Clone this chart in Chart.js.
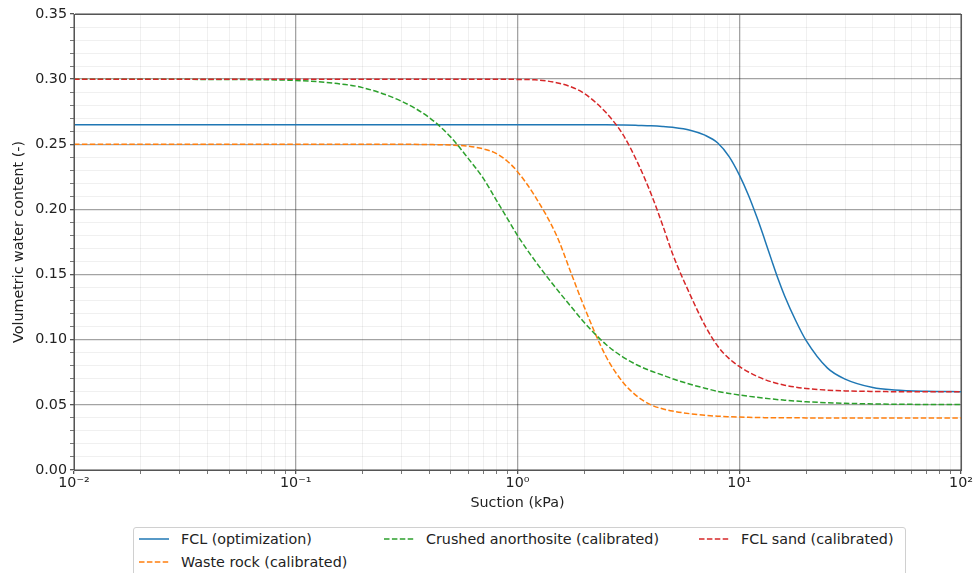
<!DOCTYPE html>
<html>
<head>
<meta charset="utf-8">
<script src="https://cdn.jsdelivr.net/npm/chart.js@4/dist/chart.umd.min.js"></script>
<style>
    body { margin: 0; background: #fff; }
    #wrap { position: relative; width: 974px; height: 573px; overflow: hidden; font-family: "DejaVu Sans", sans-serif; }
    #legend {
        position: absolute; left: 133px; top: 527px; width: 771px; height: 60px;
        border: 1px solid #d0d0d0; border-radius: 3px; background: #fff;
        font-size: 14.3px; color: #222;
    }
    .item { position: absolute; display: flex; align-items: center; height: 18px; white-space: nowrap; }
    .item svg { margin-right: 12px; }
</style>
</head>
<body>
<div id="wrap">
    <canvas id="wrcChart" width="974" height="573"></canvas>
    <div id="legend"></div>
</div>
<script>
const suction = [0.01, 0.02, 0.05, 0.1, 0.15, 0.2, 0.3, 0.4, 0.5, 0.6, 0.7, 0.8, 0.9, 1, 1.2, 1.5, 1.75, 2, 2.5, 3,
    3.5, 4, 4.5, 5, 6, 7, 8, 9, 10, 11, 12, 13, 14, 15, 16, 18, 20, 25, 30, 40, 50, 70, 100];

const fclOptimization = [0.265, 0.265, 0.265, 0.265, 0.265, 0.265, 0.265, 0.265, 0.265, 0.265, 0.265, 0.265, 0.265, 0.265, 0.265, 0.265, 0.265, 0.265, 0.265, 0.2648,
    0.2645, 0.2642, 0.2637, 0.263, 0.2608, 0.257, 0.251, 0.2405, 0.2265, 0.2109, 0.1941, 0.1772, 0.1609, 0.1462, 0.1338, 0.1144, 0.0995, 0.0782, 0.0698, 0.0633, 0.0614, 0.0604, 0.0601];

const wasteRock = [0.250, 0.250, 0.250, 0.250, 0.250, 0.250, 0.250, 0.2498, 0.2494, 0.2485, 0.2465, 0.243, 0.237, 0.229, 0.210, 0.180, 0.1505, 0.125, 0.0875, 0.067,
    0.056, 0.050, 0.047, 0.0452, 0.0432, 0.042, 0.0413, 0.0409, 0.0406, 0.0404, 0.0403, 0.0402, 0.0402, 0.0401, 0.0401, 0.0401, 0.0400, 0.040, 0.040, 0.040, 0.040, 0.040, 0.040];

const crushedAnorthosite = [0.300, 0.2999, 0.2997, 0.2990, 0.2968, 0.2935, 0.283, 0.2705, 0.2555, 0.239, 0.224, 0.2075, 0.193, 0.180, 0.1605, 0.139, 0.1251, 0.1132, 0.0965, 0.0865,
    0.0802, 0.076, 0.0729, 0.0701, 0.0658, 0.0628, 0.0603, 0.0588, 0.0576, 0.0566, 0.0558, 0.0551, 0.0545, 0.054, 0.0536, 0.0529, 0.0524, 0.0516, 0.0512, 0.0507, 0.0505, 0.0503, 0.0502];

const fclSand = [0.300, 0.300, 0.300, 0.300, 0.300, 0.300, 0.300, 0.300, 0.300, 0.300, 0.300, 0.300, 0.2999, 0.2998, 0.2995, 0.2973, 0.294, 0.289, 0.2745, 0.257,
    0.235, 0.212, 0.1885, 0.166, 0.1346, 0.111, 0.095, 0.0855, 0.0795, 0.0752, 0.0720, 0.0695, 0.0676, 0.0662, 0.0651, 0.0636, 0.0626, 0.0613, 0.0607, 0.0603, 0.0601, 0.060, 0.060];

const seriesNames = ['FCL (optimization)', 'Waste rock (calibrated)', 'Crushed anorthosite (calibrated)', 'FCL sand (calibrated)'];
const seriesColors = ['#1f77b4', '#ff7f0e', '#2ca02c', '#d62728'];

// x ticks: decades are major, 2..9 are minor
const xTickValues = [0.01, 0.02, 0.03, 0.04, 0.05, 0.06, 0.07, 0.08, 0.09,
    0.1, 0.2, 0.3, 0.4, 0.5, 0.6, 0.7, 0.8, 0.9,
    1, 2, 3, 4, 5, 6, 7, 8, 9,
    10, 20, 30, 40, 50, 60, 70, 80, 90, 100];
const xTickLabels = { '0.01': '10\u207B\u00B2', '0.1': '10\u207B\u00B9', '1': '10\u2070', '10': '10\u00B9', '100': '10\u00B2' };

const majorGrid = 'rgba(0,0,0,0.36)';
const minorGrid = 'rgba(0,0,0,0.08)';

function isMajorX(v) {
    return Math.abs(Math.log10(v) - Math.round(Math.log10(v))) < 1e-6;
}
function isMajorY(v) {
    return Math.round(v * 100) % 5 === 0;
}

function toPoints(values) {
    return suction.map(function (s, i) { return { x: s, y: values[i] }; });
}

const seriesValues = [fclOptimization, wasteRock, crushedAnorthosite, fclSand];

const datasets = seriesValues.map(function (values, i) {
    return {
        label: seriesNames[i],
        data: toPoints(values),
        borderColor: seriesColors[i],
        backgroundColor: seriesColors[i],
        borderWidth: 1.5,
        borderDash: i === 0 ? [] : [5.5, 2.4],
        pointRadius: 0,
        cubicInterpolationMode: 'monotone',
        order: 4 - i
    };
});

// draws the top and right spines too
const frame = {
    id: 'frame',
    afterDraw(chart) {
        const a = chart.chartArea;
        const ctx = chart.ctx;
        ctx.save();
        ctx.strokeStyle = '#555';
        ctx.lineWidth = 1;
        ctx.strokeRect(a.left + 0.5, a.top + 0.5, a.right - a.left, a.bottom - a.top);
        ctx.restore();
    }
};

Chart.defaults.font.family = '"DejaVu Sans", sans-serif';
Chart.defaults.font.size = 14.3;
Chart.defaults.color = '#222';

new Chart(document.getElementById('wrcChart'), {
    type: 'line',
    data: { datasets: datasets },
    options: {
        responsive: false,
        animation: false,
        layout: { padding: { top: 14, right: 11, bottom: 61, left: 11 } },
        plugins: { legend: { display: false }, tooltip: { enabled: false } },
        scales: {
            x: {
                type: 'logarithmic',
                min: 0.01,
                max: 100,
                afterBuildTicks: function (scale) {
                    scale.ticks = xTickValues.map(function (v) { return { value: v }; });
                },
                afterFit: function (scale) { scale.height = 42; },
                ticks: {
                    autoSkip: false,
                    maxRotation: 0,
                    padding: 1,
                    callback: function (value) { return xTickLabels[String(value)] || ''; }
                },
                grid: {
                    color: function (c) { return isMajorX(c.tick.value) ? majorGrid : minorGrid; },
                    lineWidth: function (c) { return isMajorX(c.tick.value) ? 1.3 : 0.8; },
                    tickColor: '#555',
                    tickLength: 4
                },
                border: { color: '#555' },
                title: { display: true, text: 'Suction (kPa)', padding: { top: 2, bottom: 0 } }
            },
            y: {
                min: 0,
                max: 0.35,
                afterFit: function (scale) { scale.width = 63; },
                ticks: {
                    stepSize: 0.01,
                    autoSkip: false,
                    padding: 3,
                    callback: function (value) { return isMajorY(value) ? value.toFixed(2) : ''; }
                },
                grid: {
                    color: function (c) { return isMajorY(c.tick.value) ? majorGrid : minorGrid; },
                    lineWidth: function (c) { return isMajorY(c.tick.value) ? 1.3 : 0.8; },
                    tickColor: '#555',
                    tickLength: 4
                },
                border: { color: '#555' },
                title: { display: true, text: 'Volumetric water content (-)', padding: { top: 0, bottom: 2 } }
            }
        }
    },
    plugins: [frame]
});

// matplotlib-style legend, 3 columns filled column by column
const legendSlots = [
    { left: 5, top: 2 },   // FCL (optimization)
    { left: 5, top: 25 },  // Waste rock
    { left: 250, top: 2 }, // Crushed anorthosite
    { left: 565, top: 2 }  // FCL sand
];
const legend = document.getElementById('legend');
seriesNames.forEach(function (name, i) {
    const item = document.createElement('div');
    item.className = 'item';
    item.style.left = legendSlots[i].left + 'px';
    item.style.top = legendSlots[i].top + 'px';
    const dash = i === 0 ? '' : ' stroke-dasharray="5.5 2.4"';
    item.innerHTML = '<svg width="30" height="10"><line x1="0" y1="5" x2="30" y2="5" stroke="' + seriesColors[i] +
        '" stroke-width="1.5"' + dash + '/></svg><span>' + name + '</span>';
    legend.appendChild(item);
});
</script>
</body>
</html>
